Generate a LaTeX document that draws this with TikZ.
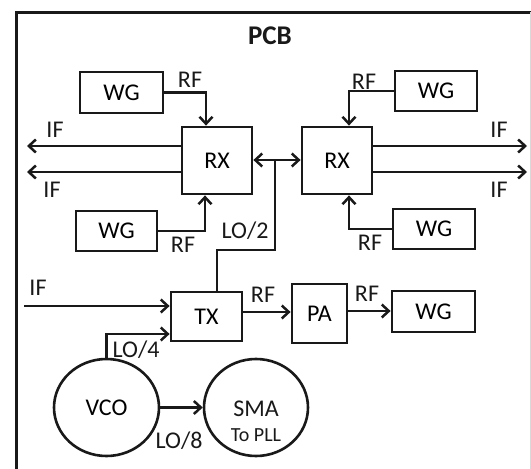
\documentclass[tikz,border=0pt]{standalone}
\usepackage{fontspec}
\setmainfont{Carlito}
\usetikzlibrary{arrows.meta,calc,shapes.geometric}
\begin{document}
\begin{tikzpicture}[x=1pt,y=-1pt,
  box/.style={draw=black!90, line width=2.8pt, inner sep=0pt, font=\fontsize{24}{26}\selectfont},
  circ/.style={ellipse, draw=black!90, line width=2.6pt, inner sep=0pt, font=\fontsize{24}{26}\selectfont},
  conn/.style={draw=black!90, line width=2.5pt},
  tip/.style={Straight Barb[length=7pt,width=13pt,line width=2.5pt]},
  arr/.style={conn, -{Straight Barb[length=7pt,width=13pt,line width=2.5pt]}},
  darr/.style={conn, {Straight Barb[length=7pt,width=13pt,line width=2.5pt]}-{Straight Barb[length=7pt,width=13pt,line width=2.5pt]}},
  lbl/.style={inner sep=0pt, font=\fontsize{24}{26}\selectfont, text=black!90}]
\useasboundingbox (0,0) rectangle (531,469);
% frame
\draw[line width=3pt, black!90] (16,469) -- (16,12) -- (531,12);
\draw[line width=1pt, black!15] (530,12) -- (530,469);
\node[lbl, font=\fontsize{27}{30}\selectfont\bfseries] (pcb) at (270,36) {PCB};
% boxes
\node[box, minimum width=83pt, minimum height=41pt] (wg1) at (121.5,92.5) {WG};
\node[box, minimum width=70pt, minimum height=67pt] (rx1) at (217,160.5) {RX};
\node[box, minimum width=81pt, minimum height=40pt] (wg2) at (116.5,231) {WG};
\node[box, minimum width=70pt, minimum height=67pt] (rx2) at (337,160.5) {RX};
\node[box, minimum width=82pt, minimum height=40pt] (wg3) at (436,91) {WG};
\node[box, minimum width=82pt, minimum height=40pt] (wg4) at (434,229) {WG};
\node[box, minimum width=71pt, minimum height=49pt] (tx) at (206.5,316.5) {TX};
\node[box, minimum width=55pt, minimum height=59pt] (pa) at (319.5,313.5) {PA};
\node[box, minimum width=83pt, minimum height=41pt] (wg5) at (433.5,311.5) {WG};
\node[circ, minimum width=105pt, minimum height=97pt] (vco) at (106.5,407.5) {VCO};
\node[circ, minimum width=104pt, minimum height=97pt] (sma) at (256,407.5) {};
\node[lbl] (smat) at (256,409) {SMA};
\node[lbl, font=\fontsize{20}{22}\selectfont] (pll) at (256,435) {To PLL};
% coordinates
\coordinate (ifl1) at (27,146);
\coordinate (ifl2) at (27,172);
\coordinate (ifr1) at (527,146);
\coordinate (ifr2) at (527,172);
\coordinate (ifin) at (24,306);
\coordinate (j) at (275,160);
\coordinate (lob) at (275,250);
% connectors
\draw[arr] (wg1.east) -| ([xshift=-11pt]rx1.north);
\draw[arr] (wg2.east) -| ([xshift=-12pt]rx1.south);
\draw[arr] (wg3.west) -| ([xshift=12pt]rx2.north);
\draw[arr] (wg4.west) -| ([xshift=12pt]rx2.south);
\draw[arr] (rx1.west |- ifl1) -- (ifl1);
\draw[arr] (rx1.west |- ifl2) -- (ifl2);
\draw[arr] (rx2.east |- ifr1) -- (ifr1);
\draw[arr] (rx2.east |- ifr2) -- (ifr2);
\draw[darr] (rx1.east |- j) -- (rx2.west |- j);
\draw[conn] ([xshift=10.5pt]tx.north) |- (lob) -- (j);
\draw[arr] (ifin) -- (tx.west |- ifin);
\draw[arr] (vco.north) |- ([yshift=-17.5pt]tx.west);
\draw[arr] (vco.east) -- (sma.west);
\draw[arr] (tx.east |- 0,312) -- (pa.west |- 0,312);
\draw[arr] (pa.east |- 0,311) -- (wg5.west |- 0,311);
% labels
\node[lbl] (l1) at (190,80) {RF};
\node[lbl] (l2) at (364,82) {RF};
\node[lbl] (l3) at (183,245) {RF};
\node[lbl] (l4) at (370,243) {RF};
\node[lbl] (l5) at (263,295) {RF};
\node[lbl] (l6) at (367,294) {RF};
\node[lbl] (i1) at (55,130) {IF};
\node[lbl] (i2) at (52,190) {IF};
\node[lbl] (i3) at (499,130) {IF};
\node[lbl] (i4) at (499,190) {IF};
\node[lbl] (i5) at (38,288) {IF};
\node[lbl] (lo2) at (245,231) {LO/2};
\node[lbl] (lo4) at (136,350) {LO/4};
\node[lbl] (lo8) at (179,441) {LO/8};
\end{tikzpicture}
\end{document}
